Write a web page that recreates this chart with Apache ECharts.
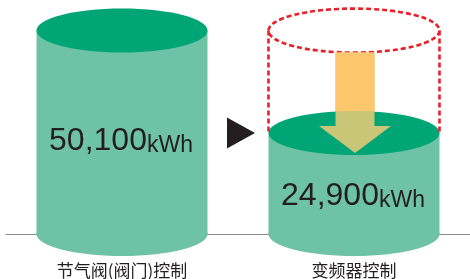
<!DOCTYPE html>
<html>
<head>
<meta charset="utf-8">
<style>
html, body { margin: 0; padding: 0; background: #fff; }
#chartElem { width: 470px; height: 279px; }
</style>
</head>
<body>
<div id="chartElem"></div>
<script src="https://cdn.jsdelivr.net/npm/echarts@6.0.0/dist/echarts.min.js"></script>
<script>

let categories = ["节气阀(阀门)控制", "变频器控制"];
let energyKwh = [50100, 24900];
let unitLabel = "kWh";

let cylRx = 85.5,
	cylRy = 22,
	bodyColor = "#6ec2a6",
	topColor = "#00a575",
	dashColor = "#ea1f2a",
	arrowColor = "#fdc76e",
	arrowOnTop = "#c9c677",
	textColor = "#231f20";

let chart = echarts.init(document.getElementById("chartElem"));

chart.setOption({
	animation: false,
	grid: { left: 6, width: 470, top: 31, bottom: 44 },
	xAxis: {
		type: "category",
		data: categories,
		axisTick: { show: false },
		axisLine: { lineStyle: { color: "#8c8c8c", width: 1.2 } },
		axisLabel: {
			interval: 0,
			fontSize: 17,
			lineHeight: 17,
			margin: 28,
			color: textColor,
			fontFamily: "Noto Sans CJK SC"
		}
	},
	yAxis: { type: "value", min: 0, max: 50000, show: false },
	series: [{
		type: "custom",
		clip: false,
		data: energyKwh.map((v, i) => [i, v]),
		encode: { x: 0, y: 1 },
		renderItem: renderCylinder
	}]
});


function renderCylinder(params, api) {
	let i = params.dataIndex,
		value = api.value(1),
		[cx, topY] = api.coord([i, value]),
		baseY = api.coord([i, 0])[1],
		children = [];
	
	children.push({ type: "ellipse", shape: { cx: cx, cy: baseY, rx: cylRx, ry: cylRy }, style: { fill: bodyColor } });
	children.push({ type: "rect", shape: { x: cx - cylRx, y: topY, width: cylRx * 2, height: baseY - topY }, style: { fill: bodyColor } });
	children.push({ type: "ellipse", shape: { cx: cx, cy: topY, rx: cylRx, ry: cylRy }, style: { fill: topColor } });
	
	if (i > 0) {
		// outline of the previous level, arrow down to the new one
		let prevY = api.coord([i, energyKwh[i - 1]])[1],
			prevCx = api.coord([i - 1, 0])[0],
			dash = { stroke: dashColor, fill: null, lineWidth: 2.6, lineDash: [5, 3] };
		
		children.push({ type: "ellipse", shape: { cx: cx, cy: prevY, rx: cylRx, ry: cylRy }, style: dash });
		children.push({ type: "line", shape: { x1: cx - cylRx, y1: prevY, x2: cx - cylRx, y2: topY }, style: dash });
		children.push({ type: "line", shape: { x1: cx + cylRx, y1: prevY, x2: cx + cylRx, y2: topY }, style: dash });
		
		let ax = cx + 1,
			shaftTop = prevY + cylRy,
			tip = topY + 20,
			headY = tip - 27;
		
		children.push({ type: "polygon", shape: { points: [
			[ax - 19.5, shaftTop], [ax + 19.5, shaftTop], [ax + 19.5, headY], [ax + 36, headY],
			[ax, tip], [ax - 36, headY], [ax - 19.5, headY]
		] }, style: { fill: arrowOnTop } });
		
		let pts = [[ax - 19.5, shaftTop], [ax + 19.5, shaftTop]];
		for (let x = ax + 19.5; x >= ax - 19.5; x -= 3) {
			let dx = (x - cx) / cylRx;
			pts.push([x, topY - cylRy * Math.sqrt(1 - dx * dx)]);
		}
		pts.push([ax - 19.5, topY - cylRy * Math.sqrt(1 - Math.pow((ax - 19.5 - cx) / cylRx, 2))]);
		children.push({ type: "polygon", shape: { points: pts }, style: { fill: arrowColor } });
		
		let mid = (prevCx + cx) / 2;
		children.push({ type: "polygon", shape: { points: [
			[mid - 11, topY - 15.5], [mid + 17, topY], [mid - 11, topY + 15.5]
		] }, style: { fill: textColor } });
	}
	
	children.push({
		type: "text",
		style: {
			text: "{n|" + value.toLocaleString("en-US") + "}{u|" + unitLabel + "}",
			x: cx - 1,
			y: topY + 17 + 0.46 * (baseY - topY),
			align: "center",
			verticalAlign: "middle",
			rich: {
				n: { fontSize: 32, fontFamily: "Liberation Sans", fill: textColor, lineHeight: 32, verticalAlign: "bottom" },
				u: { fontSize: 23, fontFamily: "Liberation Sans", fill: textColor, lineHeight: 26, verticalAlign: "bottom" }
			}
		}
	});
	
	return { type: "group", children: children };
}

</script>
</body>
</html>
